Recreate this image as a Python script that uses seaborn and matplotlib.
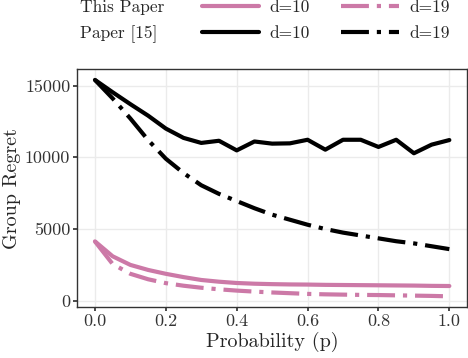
import matplotlib
matplotlib.use("Agg")
import matplotlib.pyplot as plt
from matplotlib.lines import Line2D
import seaborn as sns
import numpy as np

# probability grid (step 0.05)
p = [0.0, 0.05, 0.1, 0.15, 0.2, 0.25, 0.3, 0.35, 0.4, 0.45, 0.5,
     0.55, 0.6, 0.65, 0.7, 0.75, 0.8, 0.85, 0.9, 0.95, 1.0]

# This Paper
ours_d10 = [4140, 3100, 2500, 2150, 1880, 1650, 1450, 1330, 1240, 1190, 1160,
            1140, 1130, 1110, 1100, 1090, 1080, 1070, 1060, 1040, 1030]
ours_d19 = [4140, 2560, 1880, 1500, 1230, 1050, 910, 800, 710, 640, 580,
            530, 480, 450, 430, 410, 400, 380, 360, 340, 310]

# Paper [15]
ref_d10 = [15390, 14530, 13700, 12900, 12000, 11350, 11000, 11150, 10480, 11100, 10950,
           10970, 11220, 10530, 11220, 11220, 10720, 11220, 10280, 10880, 11200]
ref_d19 = [15390, 14100, 12700, 11200, 9900, 8900, 8050, 7450, 6950, 6450, 6000,
           5650, 5300, 5000, 4750, 4550, 4350, 4150, 4000, 3800, 3600]

pink = "#CC79A7"
dotdash = (6.7, 1.9, 1.0, 1.9)

sns.set_theme(style="whitegrid")
plt.rcParams.update({
    "font.family": "serif",
    "font.serif": ["cmr10"],
    "mathtext.fontset": "cm",
    "axes.formatter.use_mathtext": True,
    "axes.edgecolor": "#333333",
    "axes.linewidth": 1.0,
    "grid.color": "#ebebeb",
    "grid.linewidth": 1.0,
    "xtick.bottom": True,
    "ytick.left": True,
    "xtick.major.size": 3,
    "ytick.major.size": 3,
    "xtick.color": "#333333",
    "ytick.color": "#333333",
})

fig, ax = plt.subplots(figsize=(4.68, 3.58), dpi=100)
fig.subplots_adjust(left=0.165, right=0.998, top=0.807, bottom=0.142)

lw = 3
sns.lineplot(x=p, y=ours_d10, ax=ax, color=pink, linewidth=lw)
l2 = sns.lineplot(x=p, y=ours_d19, ax=ax, color=pink, linewidth=lw).lines[-1]
l2.set_dashes(dotdash)
sns.lineplot(x=p, y=ref_d10, ax=ax, color="black", linewidth=lw)
l4 = sns.lineplot(x=p, y=ref_d19, ax=ax, color="black", linewidth=lw).lines[-1]
l4.set_dashes(dotdash)

ax.set_xticks([0.0, 0.2, 0.4, 0.6, 0.8, 1.0])
ax.set_xticklabels(["0.0", "0.2", "0.4", "0.6", "0.8", "1.0"])
ax.set_yticks([0, 5000, 10000, 15000])
ax.set_yticklabels(["0", "5000", "10000", "15000"])
ax.tick_params(labelsize=13, pad=2)
ax.set_xlabel("Probability (p)", fontsize=14.5, labelpad=2)
ax.set_ylabel("Group Regret", fontsize=14.5, labelpad=3)

# legend: row titles as entries without a visible handle
blank = Line2D([], [], color="none")
h = [blank, blank,
     Line2D([], [], color=pink, lw=lw),
     Line2D([], [], color="black", lw=lw),
     Line2D([], [], color=pink, lw=lw, dashes=dotdash),
     Line2D([], [], color="black", lw=lw, dashes=dotdash)]
labels = ["This Paper ", "Paper [15] ", "d=10", "d=10", "d=19", "d=19"]
fig.legend(h, labels, ncol=3, loc="upper left", bbox_to_anchor=(0.0, 1.035),
           frameon=False, fontsize=12.5, handlelength=3.3, handletextpad=0.62,
           columnspacing=1.8, labelspacing=0.6, borderpad=0.2)

fig.savefig("out.png", dpi=100)
